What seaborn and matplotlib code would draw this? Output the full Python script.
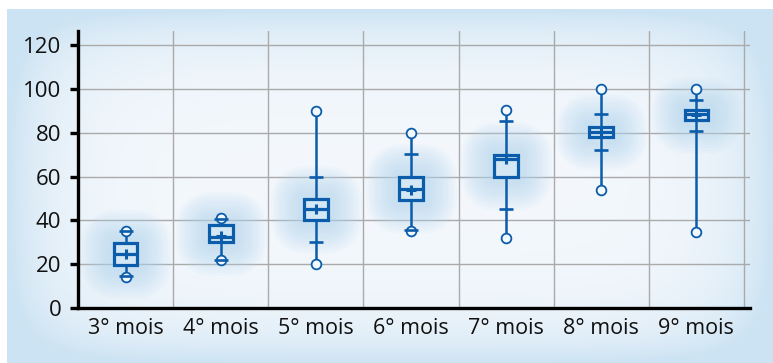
import numpy as np
import matplotlib
matplotlib.use("Agg")
import matplotlib.pyplot as plt
import matplotlib.patheffects as pe
import seaborn as sns

categories = ["3° mois", "4° mois", "5° mois", "6° mois", "7° mois", "8° mois", "9° mois"]
mins = [14, 22, 20, 35, 32, 54, 34.5]
whisker_low = [14.5, 22, 30, 35.5, 45, 72, 81]
q1 = [19.5, 30, 40, 49.5, 60, 78, 86]
medians = [24.5, 32.5, 45, 54.5, 68, 80.5, 88.5]
q3 = [29.5, 38, 50, 60, 70, 82.5, 90.5]
whisker_high = [35, 40.5, 60, 70.5, 85.5, 88.5, 95]
maxs = [35, 41, 90, 80, 90.5, 100, 100]
means = [24.5, 33, 45, 54, 68, 80.5, 88]
y_ticks = [0, 20, 40, 60, 80, 100, 120]

sns.set_theme(style="whitegrid")
plt.rcParams["font.family"] = ["Open Sans", "DejaVu Sans"]

W, H = 773, 363
fig = plt.figure(figsize=(W / 100, H / 100), dpi=100)
fig.patch.set_facecolor("white")

# background panel with soft gradient
bg = fig.add_axes([7 / W, 0, 1 - 7 / W, (H - 9) / H])
bg.set_axis_off()
pw, ph = W - 7, H - 9
xx, yy = np.meshgrid(np.arange(pw), np.arange(ph))
dx = np.minimum(xx, pw - xx)
dy = np.minimum(yy, ph - yy)
t = np.clip(np.exp(-dx / 45.0) + np.exp(-dy / 35.0), 0, 1)
center = np.array([244, 248, 252]) / 255
edge = np.array([204, 227, 243]) / 255
img = center[None, None, :] * (1 - t[..., None]) + edge[None, None, :] * t[..., None]
bg.imshow(img, aspect="auto", extent=[0, 1, 0, 1])
bg.set_xlim(0, 1)
bg.set_ylim(0, 1)

ax = fig.add_axes([78 / W, (H - 308) / H, 672 / W, 277 / H])
ax.set_facecolor("none")

blue = "#0b5cab"
fill = "#d3e7f4"
n = len(categories)
pos = np.arange(n)
stats = []
for i in range(n):
    stats.append(dict(med=medians[i], q1=q1[i], q3=q3[i],
                      whislo=mins[i], whishi=maxs[i],
                      fliers=[mins[i], maxs[i]], label=categories[i]))

res = ax.bxp(stats, positions=pos, widths=0.25, patch_artist=True,
             showfliers=True, showcaps=False,
             boxprops=dict(facecolor=fill, edgecolor=blue, linewidth=2.3, zorder=3),
             medianprops=dict(color=blue, linewidth=2.3, zorder=4),
             whiskerprops=dict(color=blue, linewidth=1.8, zorder=3.5),
             flierprops=dict(marker="o", markerfacecolor="#f4f9fd", markeredgecolor=blue,
                             markersize=7, markeredgewidth=1.3, zorder=4))
glow = []
for lw in range(48, 4, -4):
    glow.append(pe.Stroke(linewidth=lw, foreground="#b3d7f0", alpha=0.08,
                          joinstyle="round"))
glow.append(pe.Normal())
for b in res["boxes"]:
    b.set_path_effects(glow)

# whisker caps (at percentile positions)
cap_x = np.concatenate([pos, pos])
cap_y = np.concatenate([whisker_low, whisker_high])
sns.scatterplot(x=cap_x, y=cap_y, marker="_", s=95, linewidth=1.9, color=blue,
                ax=ax, zorder=5, legend=False)
# means
sns.scatterplot(x=pos, y=means, marker="+", s=45, linewidth=2.2, color=blue,
                ax=ax, zorder=6, legend=False)

ax.set_xlim(-0.5, 6.563)
ax.set_ylim(0, 126.5)
ax.set_yticks(y_ticks)
ax.set_xticks(pos)
ax.set_xticklabels(categories)
ax.set_xticks(np.arange(n + 1) - 0.5, minor=True)

ax.grid(False)
ax.yaxis.grid(True, which="major", color="#aaaaaa", linewidth=1.0)
ax.xaxis.grid(True, which="minor", color="#aaaaaa", linewidth=1.0)
ax.set_axisbelow(True)

for s in ["top", "right"]:
    ax.spines[s].set_visible(False)
for s in ["left", "bottom"]:
    ax.spines[s].set_visible(True)
    ax.spines[s].set_color("black")
    ax.spines[s].set_linewidth(2.4)
    ax.spines[s].set_zorder(7)

ax.tick_params(axis="x", which="major", length=0, labelsize=15.5, pad=7, colors="#111111")
ax.tick_params(axis="x", which="minor", length=6, width=2.4, color="black", direction="out")
ax.tick_params(axis="y", which="major", length=6, width=2.4, color="black", labelsize=16,
               pad=6, labelcolor="#111111", direction="out", left=True)
ax.set_xlabel("")
ax.set_ylabel("")

fig.savefig("out.png", dpi=100, facecolor=fig.get_facecolor())
